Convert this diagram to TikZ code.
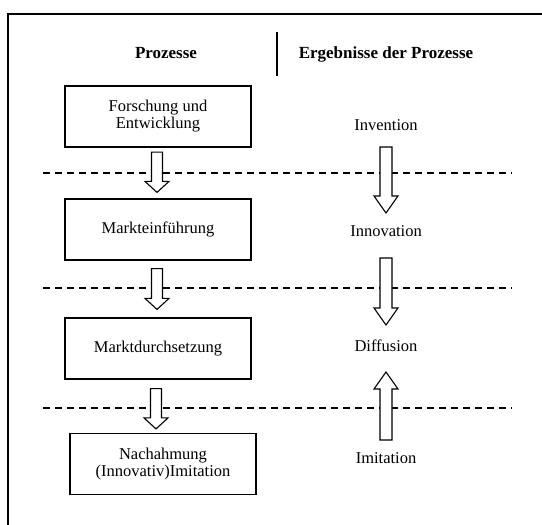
\documentclass[tikz,border=0pt]{standalone}
\usepackage{fontspec}
\setmainfont{Liberation Serif}
\usetikzlibrary{calc,positioning}

% block arrow: start, tip, signed head offset, half shaft, half head
\newcommand{\fatarrow}[5]{%
  \draw[fatarrow] ($(#1)+(-#4,0)$) -- ($(#2)+(-#4,#3)$) -- ($(#2)+(-#5,#3)$) -- (#2)
    -- ($(#2)+(#5,#3)$) -- ($(#2)+(#4,#3)$) -- ($(#1)+(#4,0)$) -- cycle;}

\begin{document}
\begin{tikzpicture}[x=1pt,y=-1pt,
  every node/.style={font=\fontsize{16.5}{17}\selectfont},
  box/.style={draw,line width=1.2pt,minimum width=186pt,minimum height=61pt,align=center,inner sep=0pt},
  head/.style={font=\fontsize{17}{17}\selectfont\bfseries,anchor=base},
  result/.style={anchor=base},
  sep/.style={line width=1.1pt,dash pattern=on 7pt off 5pt},
  fatarrow/.style={draw,fill=white,line width=1.1pt,line join=miter}]
\useasboundingbox (0,0) rectangle (542,525);
\draw[line width=2.2pt] (8,525) -- (8,14) -- (542,14);

\node[head] (proz) at (166,58) {Prozesse};
\node[head] (erg) at (386,58) {Ergebnisse der Prozesse};
\draw[line width=1.3pt] (277,32) -- (277,76);

\foreach \y in {173,288,408}
  \draw[sep] (43,\y) -- (512,\y);

\node[box] (fue) at (158,116.5) {Forschung und\\Entwicklung};
\node[box] (mein) at (158,229.5) {Markteinführung};
\node[box] (mdurch) at (158,348.5) {Marktdurchsetzung};
\node[box] (nach) at (163,464) {Nachahmung\\(Innovativ)Imitation};

\node[result] (inv) at (386,130) {Invention};
\node[result] (innov) at (386,236) {Innovation};
\node[result] (diff) at (386,351) {Diffusion};
\node[result] (imit) at (386,463) {Imitation};

% Prozesse
\coordinate (l1a) at ($(fue.south)+(-1,4.5)$);
\coordinate (l1b) at ($(mein.north)+(-1,-6)$);
\coordinate (l2a) at ($(mein.south)+(-1,8)$);
\coordinate (l2b) at ($(mdurch.north)+(-1,-8)$);
\coordinate (l3a) at ($(mdurch.south)+(-2,9)$);
\coordinate (l3b) at ($(nach.north)+(-7,-4)$);
\fatarrow{l1a}{l1b}{-11}{5.5}{12}
\fatarrow{l2a}{l2b}{-11}{5.5}{12}
\fatarrow{l3a}{l3b}{-11}{5.5}{12}

% Ergebnisse
\coordinate (r1a) at ($(inv.base)+(0,17)$);
\coordinate (r1b) at ($(innov.base)+(0,-23)$);
\coordinate (r2a) at ($(innov.base)+(0,22)$);
\coordinate (r2b) at ($(diff.base)+(0,-26)$);
\coordinate (r3a) at ($(imit.base)+(0,-23)$);
\coordinate (r3b) at ($(diff.base)+(0,21)$);
\fatarrow{r1a}{r1b}{-17}{6}{12}
\fatarrow{r2a}{r2b}{-17}{6}{12}
\fatarrow{r3a}{r3b}{17}{6}{12}
\end{tikzpicture}
\end{document}
